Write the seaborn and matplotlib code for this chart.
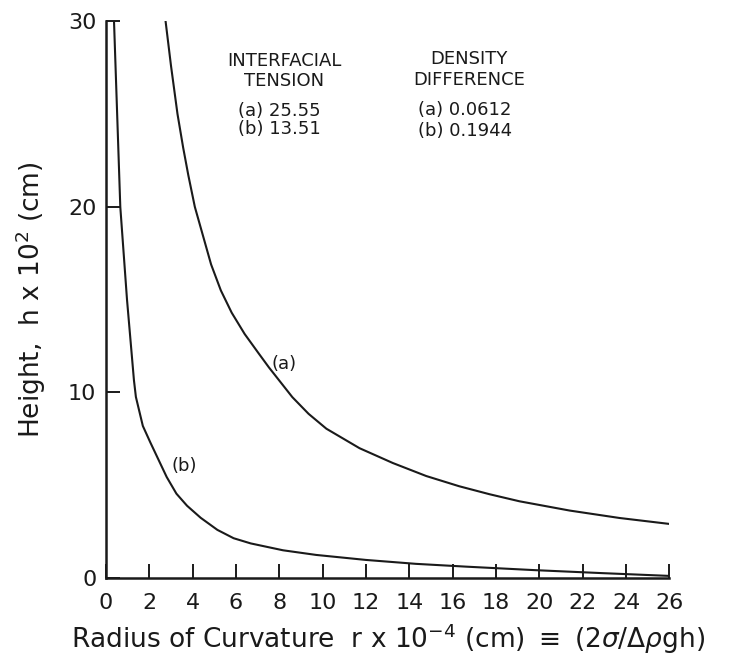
import matplotlib
matplotlib.use("Agg")
import matplotlib.pyplot as plt
import seaborn as sns
import pandas as pd

# Curve (a): interfacial tension 25.55, density difference 0.0612
r_a = [2.75, 3.0, 3.3, 3.56, 3.8, 4.1, 4.85, 5.3, 5.8, 6.4, 7.05, 7.52, 8.6,
       9.35, 10.17, 11.7, 13.24, 14.78, 16.3, 17.7, 19.08, 21.4, 23.7, 26.0]
h_a = [30.0, 27.6, 25.0, 23.2, 21.7, 20.0, 16.9, 15.5, 14.3, 13.15, 12.1, 11.35,
       9.75, 8.85, 8.05, 7.0, 6.2, 5.5, 4.95, 4.52, 4.14, 3.64, 3.24, 2.92]

# Curve (b): interfacial tension 13.51, density difference 0.1944
r_b = [0.37, 0.66, 0.97, 1.29, 1.38, 1.7, 2.05, 2.8, 3.25, 3.74, 4.37, 5.14,
       5.89, 6.68, 8.17, 9.7, 12.0, 14.3, 16.6, 19.8, 22.9, 26.0]
h_b = [30.0, 20.0, 15.0, 10.66, 9.76, 8.2, 7.3, 5.45, 4.55, 3.9, 3.25, 2.6,
       2.15, 1.87, 1.5, 1.25, 0.98, 0.77, 0.62, 0.43, 0.27, 0.12]

x_ticks = list(range(0, 27, 2))
y_ticks = [0, 10, 20, 30]

df = pd.concat([
    pd.DataFrame({"r": r_a, "h": h_a, "curve": "(a)"}),
    pd.DataFrame({"r": r_b, "h": h_b, "curve": "(b)"}),
])

sns.set_style("ticks")
plt.rcParams["font.family"] = ["DejaVu Sans"]
plt.rcParams["mathtext.fontset"] = "dejavusans"

fig = plt.figure(figsize=(7.33, 6.63), dpi=100)
ax = fig.add_axes([0.1446, 0.128, 0.7686, 0.840])

sns.lineplot(data=df, x="r", y="h", units="curve", estimator=None,
             color="#1a1a1a", linewidth=1.5, legend=False, ax=ax, sort=True)

ax.set_xlim(0, 26)
ax.set_ylim(0, 30)
ax.set_xticks(x_ticks)
ax.set_yticks(y_ticks)
ax.set_xticklabels([str(t) for t in x_ticks])
ax.set_yticklabels([str(t) for t in y_ticks])
sns.despine(ax=ax)
for s in ("left", "bottom"):
    ax.spines[s].set_linewidth(1.8)
    ax.spines[s].set_color("#1a1a1a")
ax.tick_params(axis="both", direction="in", length=10, width=1.4,
               labelsize=16, colors="#1a1a1a")
ax.tick_params(axis="x", pad=11)
ax.tick_params(axis="y", pad=7)

ax.set_xlabel(r"Radius of Curvature  r x 10$^{-4}$ (cm) $\equiv$ (2$\sigma$/$\Delta\rho$gh)",
              fontsize=19, color="#1a1a1a", labelpad=6)
ax.set_ylabel(r"Height,  h x 10$^{2}$ (cm)", fontsize=19, color="#1a1a1a",
              labelpad=14)

tk = dict(fontsize=13, color="#1a1a1a")
ax.text(8.22, 27.88, "INTERFACIAL", ha="center", va="center", **tk)
ax.text(8.22, 26.8, "TENSION", ha="center", va="center", **tk)
ax.text(6.1, 25.19, "(a) 25.55", ha="left", va="center", **tk)
ax.text(6.1, 24.17, "(b) 13.51", ha="left", va="center", **tk)
ax.text(16.75, 27.95, "DENSITY", ha="center", va="center", **tk)
ax.text(16.75, 26.86, "DIFFERENCE", ha="center", va="center", **tk)
ax.text(14.41, 25.2, "(a) 0.0612", ha="left", va="center", **tk)
ax.text(14.41, 24.1, "(b) 0.1944", ha="left", va="center", **tk)

ax.text(8.22, 11.55, "(a)", ha="center", va="center", **tk)
ax.text(3.6, 6.05, "(b)", ha="center", va="center", **tk)

fig.savefig("out.png", dpi=100, facecolor="white")
